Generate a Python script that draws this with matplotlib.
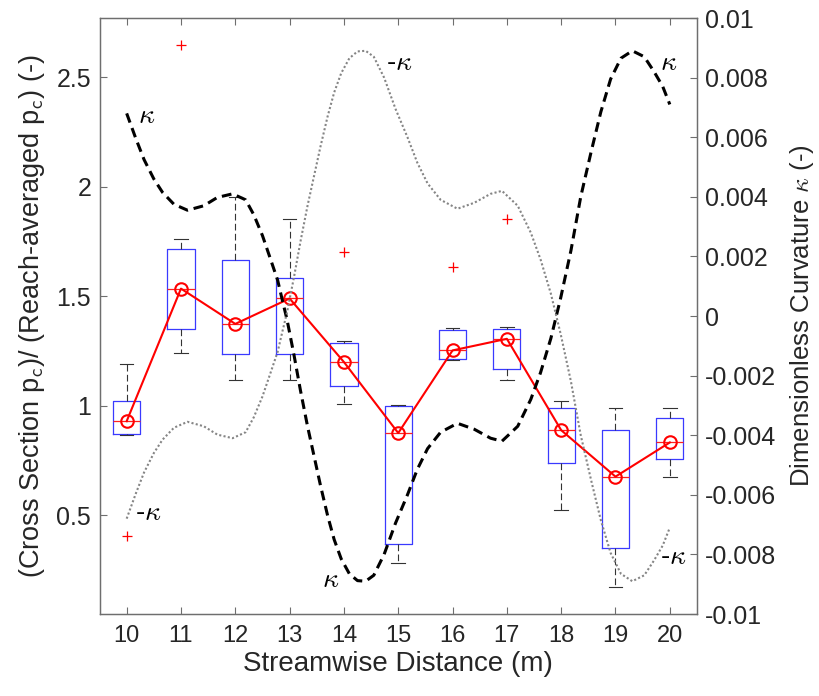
import numpy as np
import matplotlib
matplotlib.use('Agg')
import matplotlib.pyplot as plt
from matplotlib.ticker import FuncFormatter

# box plot statistics per cross section (streamwise distance in m)
pos = [10, 11, 12, 13, 14, 15, 16, 17, 18, 19, 20]
whislo = [0.865, 1.24, 1.118, 1.118, 1.008, 0.285, 1.208, 1.118, 0.523, 0.171, 0.677]
q1 = [0.87, 1.35, 1.235, 1.235, 1.09, 0.368, 1.212, 1.167, 0.738, 0.353, 0.758]
med = [0.93, 1.535, 1.374, 1.49, 1.2, 0.876, 1.253, 1.306, 0.889, 0.677, 0.833]
q3 = [1.02, 1.715, 1.667, 1.583, 1.285, 1.0, 1.344, 1.349, 0.992, 0.892, 0.944]
whishi = [1.19, 1.76, 1.955, 1.853, 1.295, 1.005, 1.355, 1.36, 1.023, 0.988, 0.988]
fliers = [[0.406], [2.648], [], [], [1.70], [], [1.633], [1.853], [], [], []]

# dimensionless curvature along the reach (x 1e-3)
kx = [10.0, 10.17, 10.32, 10.5, 10.66, 10.87, 11.12, 11.42, 11.67, 11.95, 12.19,
      12.34, 12.5, 12.65, 12.78, 12.87, 12.95, 13.08, 13.2, 13.33, 13.45, 13.57,
      13.7, 13.82, 13.95, 14.1, 14.25, 14.4, 14.55, 14.74, 14.95, 15.17, 15.35,
      15.54, 15.78, 16.09, 16.4, 16.7, 16.91, 17.2, 17.44, 17.62, 17.81, 17.99,
      18.18, 18.36, 18.55, 18.73, 18.91, 19.1, 19.31, 19.53, 19.71, 19.87, 20.0]
kv = [6.8, 5.95, 5.25, 4.6, 4.15, 3.75, 3.55, 3.7, 3.98, 4.1, 3.9,
      3.4, 2.7, 1.9, 1.2, 0.5, -0.1, -1.3, -2.5, -3.7, -4.7, -5.7,
      -6.7, -7.5, -8.15, -8.65, -8.88, -8.9, -8.7, -8.0, -6.95, -6.0, -5.15,
      -4.45, -3.9, -3.6, -3.8, -4.1, -4.2, -3.7, -2.8, -1.9, -0.75, 0.6,
      2.2, 4.0, 5.5, 6.85, 7.95, 8.65, 8.9, 8.7, 8.2, 7.7, 7.1]
kappa = np.array(kv) * 1e-3

plt.rcParams['font.family'] = ['Liberation Sans', 'DejaVu Sans']
plt.rcParams['mathtext.fontset'] = 'cm'

axcol = '#6e6e6e'
txtcol = '#262626'

fig = plt.figure(figsize=(8.19, 6.96), dpi=100)
ax = fig.add_axes([0.1215, 0.1178, 0.7295, 0.8563])

stats = []
for i in range(len(pos)):
    stats.append(dict(whislo=whislo[i], q1=q1[i], med=med[i], q3=q3[i],
                      whishi=whishi[i], fliers=fliers[i]))
ax.bxp(stats, positions=pos, widths=0.5, capwidths=0.25,
       boxprops=dict(color='#3a3aff', linewidth=0.9),
       medianprops=dict(color='#ff2020', linewidth=0.9),
       whiskerprops=dict(color='#333333', linewidth=0.8, linestyle=(0, (6, 3))),
       capprops=dict(color='#333333', linewidth=0.8),
       flierprops=dict(marker='+', markeredgecolor='#ff0000', markersize=7,
                       markeredgewidth=0.9))
ax.plot(pos, med, '-o', color='#ff0000', linewidth=1.5, markersize=9,
        markerfacecolor='none', markeredgewidth=1.5, zorder=5)

ax.set_xlim(9.5, 20.5)
ax.set_ylim(0.05, 2.77)
ax.set_xticks(pos)
ax.set_xticklabels([str(p) for p in pos])
ax.set_yticks([0.5, 1, 1.5, 2, 2.5])
ax.set_yticklabels(['0.5', '1', '1.5', '2', '2.5'])
ax.set_xlabel('Streamwise Distance (m)', fontsize=20, color=txtcol, labelpad=3)
ax.set_ylabel(r'(Cross Section p$_\mathsf{c}$)/ (Reach-averaged p$_\mathsf{c}$) (-)',
              fontsize=19.5, color=txtcol, labelpad=7)
ax.tick_params(axis='x', direction='in', top=True, length=5, labelsize=17,
               colors=axcol, labelcolor=txtcol, pad=8)
ax.tick_params(axis='y', direction='in', right=False, length=5, labelsize=18,
               colors=axcol, labelcolor=txtcol, pad=6)

ax2 = ax.twinx()
ax2.plot(kx, kappa, color='black', linewidth=2.2, linestyle=(0, (3.2, 1.9)))
ax2.plot(kx, -kappa, color='#858585', linewidth=1.5, linestyle=(0, (1, 1.1)))
ax2.set_ylim(-0.01, 0.01)
ax2.set_yticks(np.arange(-10, 11, 2) * 1e-3)
ax2.yaxis.set_major_formatter(FuncFormatter(lambda v, p: '%g' % round(v, 4)))
ax2.set_ylabel(r'Dimensionless Curvature $\kappa$ (-)', fontsize=18.5, color=txtcol,
               labelpad=8)
ax2.tick_params(axis='y', direction='in', length=5, labelsize=18,
                colors=axcol, labelcolor=txtcol, pad=6)

for a in (ax, ax2):
    for s in a.spines.values():
        s.set_color(axcol)
        s.set_linewidth(0.9)

# curve labels
lab = dict(fontsize=20, color='black', ha='center', va='center')
ax2.text(10.36, 0.0067, r'$\kappa$', **lab)
ax2.text(10.4, -0.0066, r'-$\kappa$', **lab)
ax2.text(15.02, 0.0085, r'-$\kappa$', **lab)
ax2.text(19.97, 0.0085, r'$\kappa$', **lab)
ax2.text(13.75, -0.00885, r'$\kappa$', **lab)
ax2.text(20.06, -0.0081, r'-$\kappa$', **lab)

fig.savefig('out.png', dpi=100)
